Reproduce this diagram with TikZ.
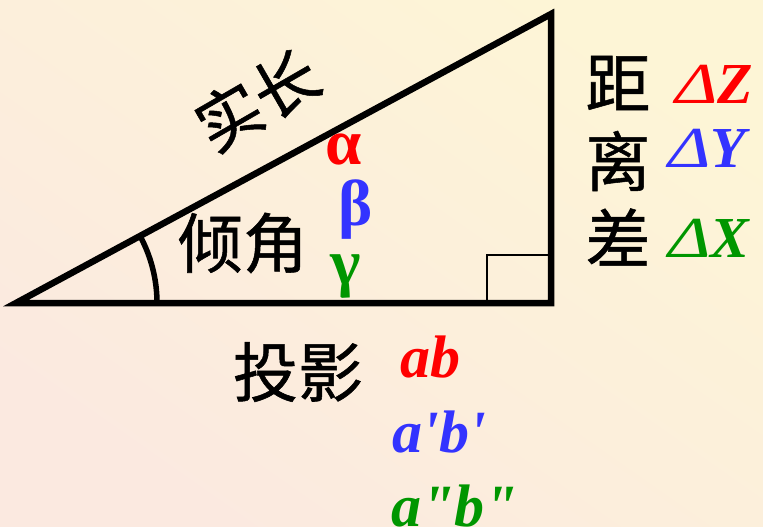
\documentclass[tikz,border=0pt]{standalone}
\usepackage{fontspec}
\newfontfamily\cjk[FakeBold=0.8]{Noto Sans CJK SC}
\newfontfamily\tnr{Liberation Serif}
\definecolor{bgA}{RGB}{253,245,214}
\definecolor{bgB}{RGB}{251,233,224}
\definecolor{cred}{RGB}{255,0,0}
\definecolor{cblue}{RGB}{51,51,255}
\definecolor{cgreen}{RGB}{0,150,0}
\newcommand{\wdelta}{{\mdseries\scalebox{1.25}[1]{Δ}}}
\tikzset{
  zh/.style={inner sep=0pt, font=\cjk\fontsize{65}{65}\selectfont},
  gk/.style={inner sep=0pt, font=\tnr\bfseries\fontsize{65}{65}\selectfont},
  dl/.style={inner sep=0pt, font=\tnr\bfseries\itshape\fontsize{58}{58}\selectfont},
  pj/.style={inner sep=0pt, font=\tnr\bfseries\itshape\fontsize{60}{60}\selectfont},
  edge/.style={line width=6.5pt, line join=miter},
}
\begin{document}
\begin{tikzpicture}[x=1pt,y=-1pt]
\shade[top color=bgA, bottom color=bgB, shading angle=-35] (0,0) rectangle (763,527);
\useasboundingbox (0,0) rectangle (763,527);
\coordinate (A) at (16,303);
\coordinate (B) at (551,303);
\coordinate (C) at (551,14);
\coordinate (Ar) at (157,303);
\draw[line width=2.5pt] (487,303) |- (551,255);
\draw[edge] (A) -- (B) -- (C) -- cycle;
\draw[line width=5.5pt] (Ar) arc[start angle=0, end angle=-28.4, radius=141];
\node[zh, rotate=30] (shichang) at (257,100) {实长};
\node[zh] (qingjiao) at (243,243) {倾角};
\node[gk, text=cred] (alpha) at (344,150) {α};
\node[gk, text=cblue] (beta) at (356,210) {β};
\node[gk, text=cgreen] (gamma) at (346,276) {γ};
\node[zh] (ju) at (618,83) {距};
\node[zh] (li) at (618,161) {离};
\node[zh] (cha) at (618,237) {差};
\node[dl, text=cred] (dz) at (714,84) {\wdelta Z};
\node[dl, text=cblue] (dy) at (707,148) {\wdelta Y};
\node[dl, text=cgreen] (dx) at (709,238) {\wdelta X};
\node[zh] (touying) at (298,372) {投影};
\node[pj, text=cred] (ab) at (430,357) {ab};
\node[pj, text=cblue] (ab1) at (439,432) {a'b'};
\node[pj, text=cgreen] (ab2) at (455,506) {a"b"};
\end{tikzpicture}
\end{document}
